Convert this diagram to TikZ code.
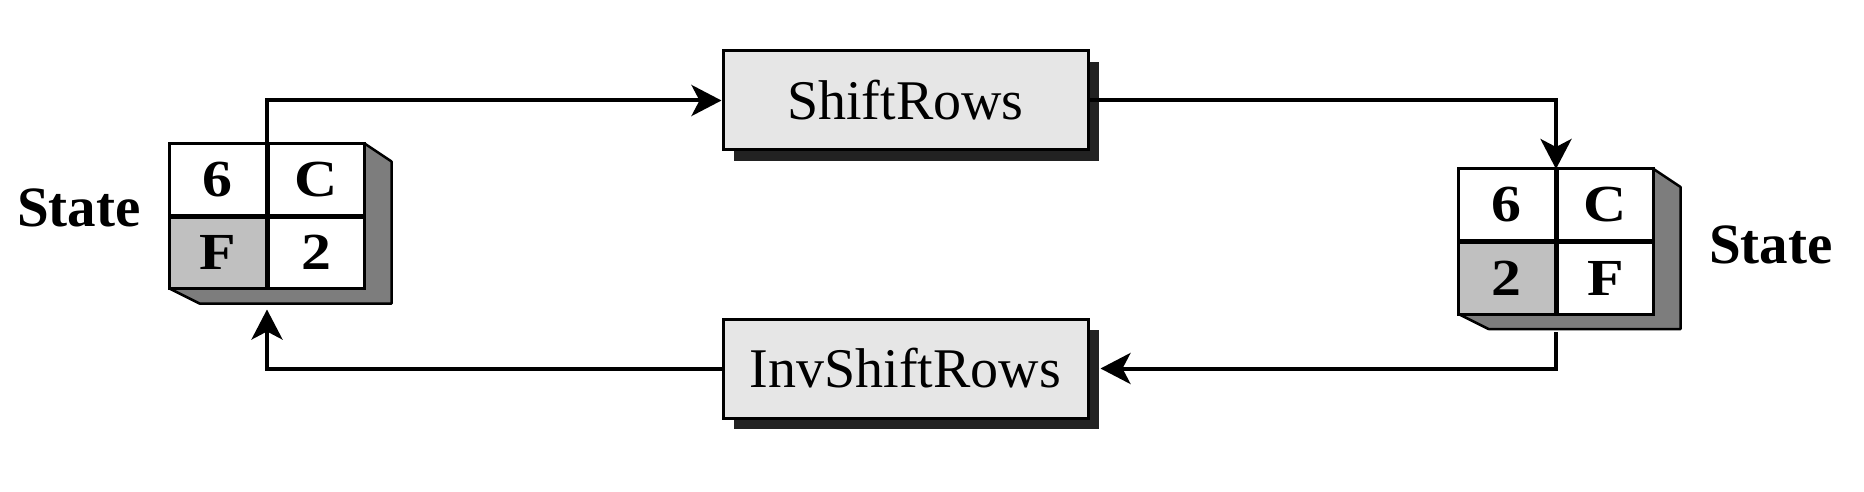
\documentclass[tikz,border=0pt]{standalone}
\usepackage{fontspec}
\usepackage{graphicx}
\setmainfont{Liberation Serif}
\usetikzlibrary{arrows.meta,shadows}
\definecolor{boxfill}{HTML}{E6E6E6}
\definecolor{sidegray}{HTML}{7D7D7D}
\definecolor{cellgray}{HTML}{C0C0C0}
\definecolor{shadowc}{HTML}{222222}
\newcommand{\celltxt}[1]{\scalebox{1.15}[1]{#1}}
\tikzset{
  proc/.style={draw=black, line width=3pt, fill=boxfill, minimum width=365pt, minimum height=99pt,
    inner sep=0pt, font=\fontsize{56}{60}\selectfont,
    drop shadow={shadow xshift=11pt, shadow yshift=-11pt, fill=shadowc, opacity=1}},
  face/.style={draw=black, line width=2.5pt, fill=sidegray, line join=round},
  cell/.style={draw=black, line width=2.5pt, minimum width=96pt, minimum height=71pt, inner sep=0pt,
    font=\fontsize{52}{56}\selectfont\bfseries},
  frontbox/.style={draw=black, line width=3pt, minimum width=192pt, minimum height=142pt, inner sep=0pt},
  lbl/.style={font=\fontsize{57}{60}\selectfont\bfseries},
  conn/.style={line width=4pt, -{Stealth[length=30pt,width=31pt,inset=8pt]}},
}
\begin{document}
\begin{tikzpicture}[x=1pt,y=-1pt]
\useasboundingbox (0,0) rectangle (1864,492);
% left state
\node[frontbox] (L) at (267,216) {};
\draw[face] (L.north east) -- ++(27,18) -- ++(0,142) -- ++(-192,0) -- (L.south west) -- (L.south east) -- cycle;
\draw[face] (L.north east) -- (L.south east);
\node[cell, fill=white, anchor=south east] (L11) at (L.center) {\celltxt{6}};
\node[cell, fill=white, anchor=south west] (L12) at (L.center) {\celltxt{C}};
\node[cell, fill=cellgray, anchor=north east] (L21) at (L.center) {\celltxt{F}};
\node[cell, fill=white, anchor=north west] (L22) at (L.center) {\celltxt{2}};
\draw[line width=3pt] (L.south west) rectangle (L.north east);
\node[lbl] (LS) at (79,208) {State};
% right state
\node[frontbox] (R) at (1556,241.5) {};
\draw[face] (R.north east) -- ++(27,18) -- ++(0,142) -- ++(-192,0) -- (R.south west) -- (R.south east) -- cycle;
\draw[face] (R.north east) -- (R.south east);
\node[cell, fill=white, anchor=south east] (R11) at (R.center) {\celltxt{6}};
\node[cell, fill=white, anchor=south west] (R12) at (R.center) {\celltxt{C}};
\node[cell, fill=cellgray, anchor=north east] (R21) at (R.center) {\celltxt{2}};
\node[cell, fill=white, anchor=north west] (R22) at (R.center) {\celltxt{F}};
\draw[line width=3pt] (R.south west) rectangle (R.north east);
\node[lbl] (RS) at (1771,245) {State};
% process boxes
\node[proc] (SR) at (905.5,100.5) {ShiftRows};
\node[proc] (ISR) at (905.5,368.5) {InvShiftRows};
% connectors
\draw[conn] (L.north) |- (SR.west);
\draw[conn] (SR.east) -| (R.north);
\draw[conn] ([yshift=-18pt]R.south) |- ([xshift=11pt]ISR.east);
\draw[conn] (ISR.west) -| ([yshift=-21pt]L.south);
\end{tikzpicture}
\end{document}
